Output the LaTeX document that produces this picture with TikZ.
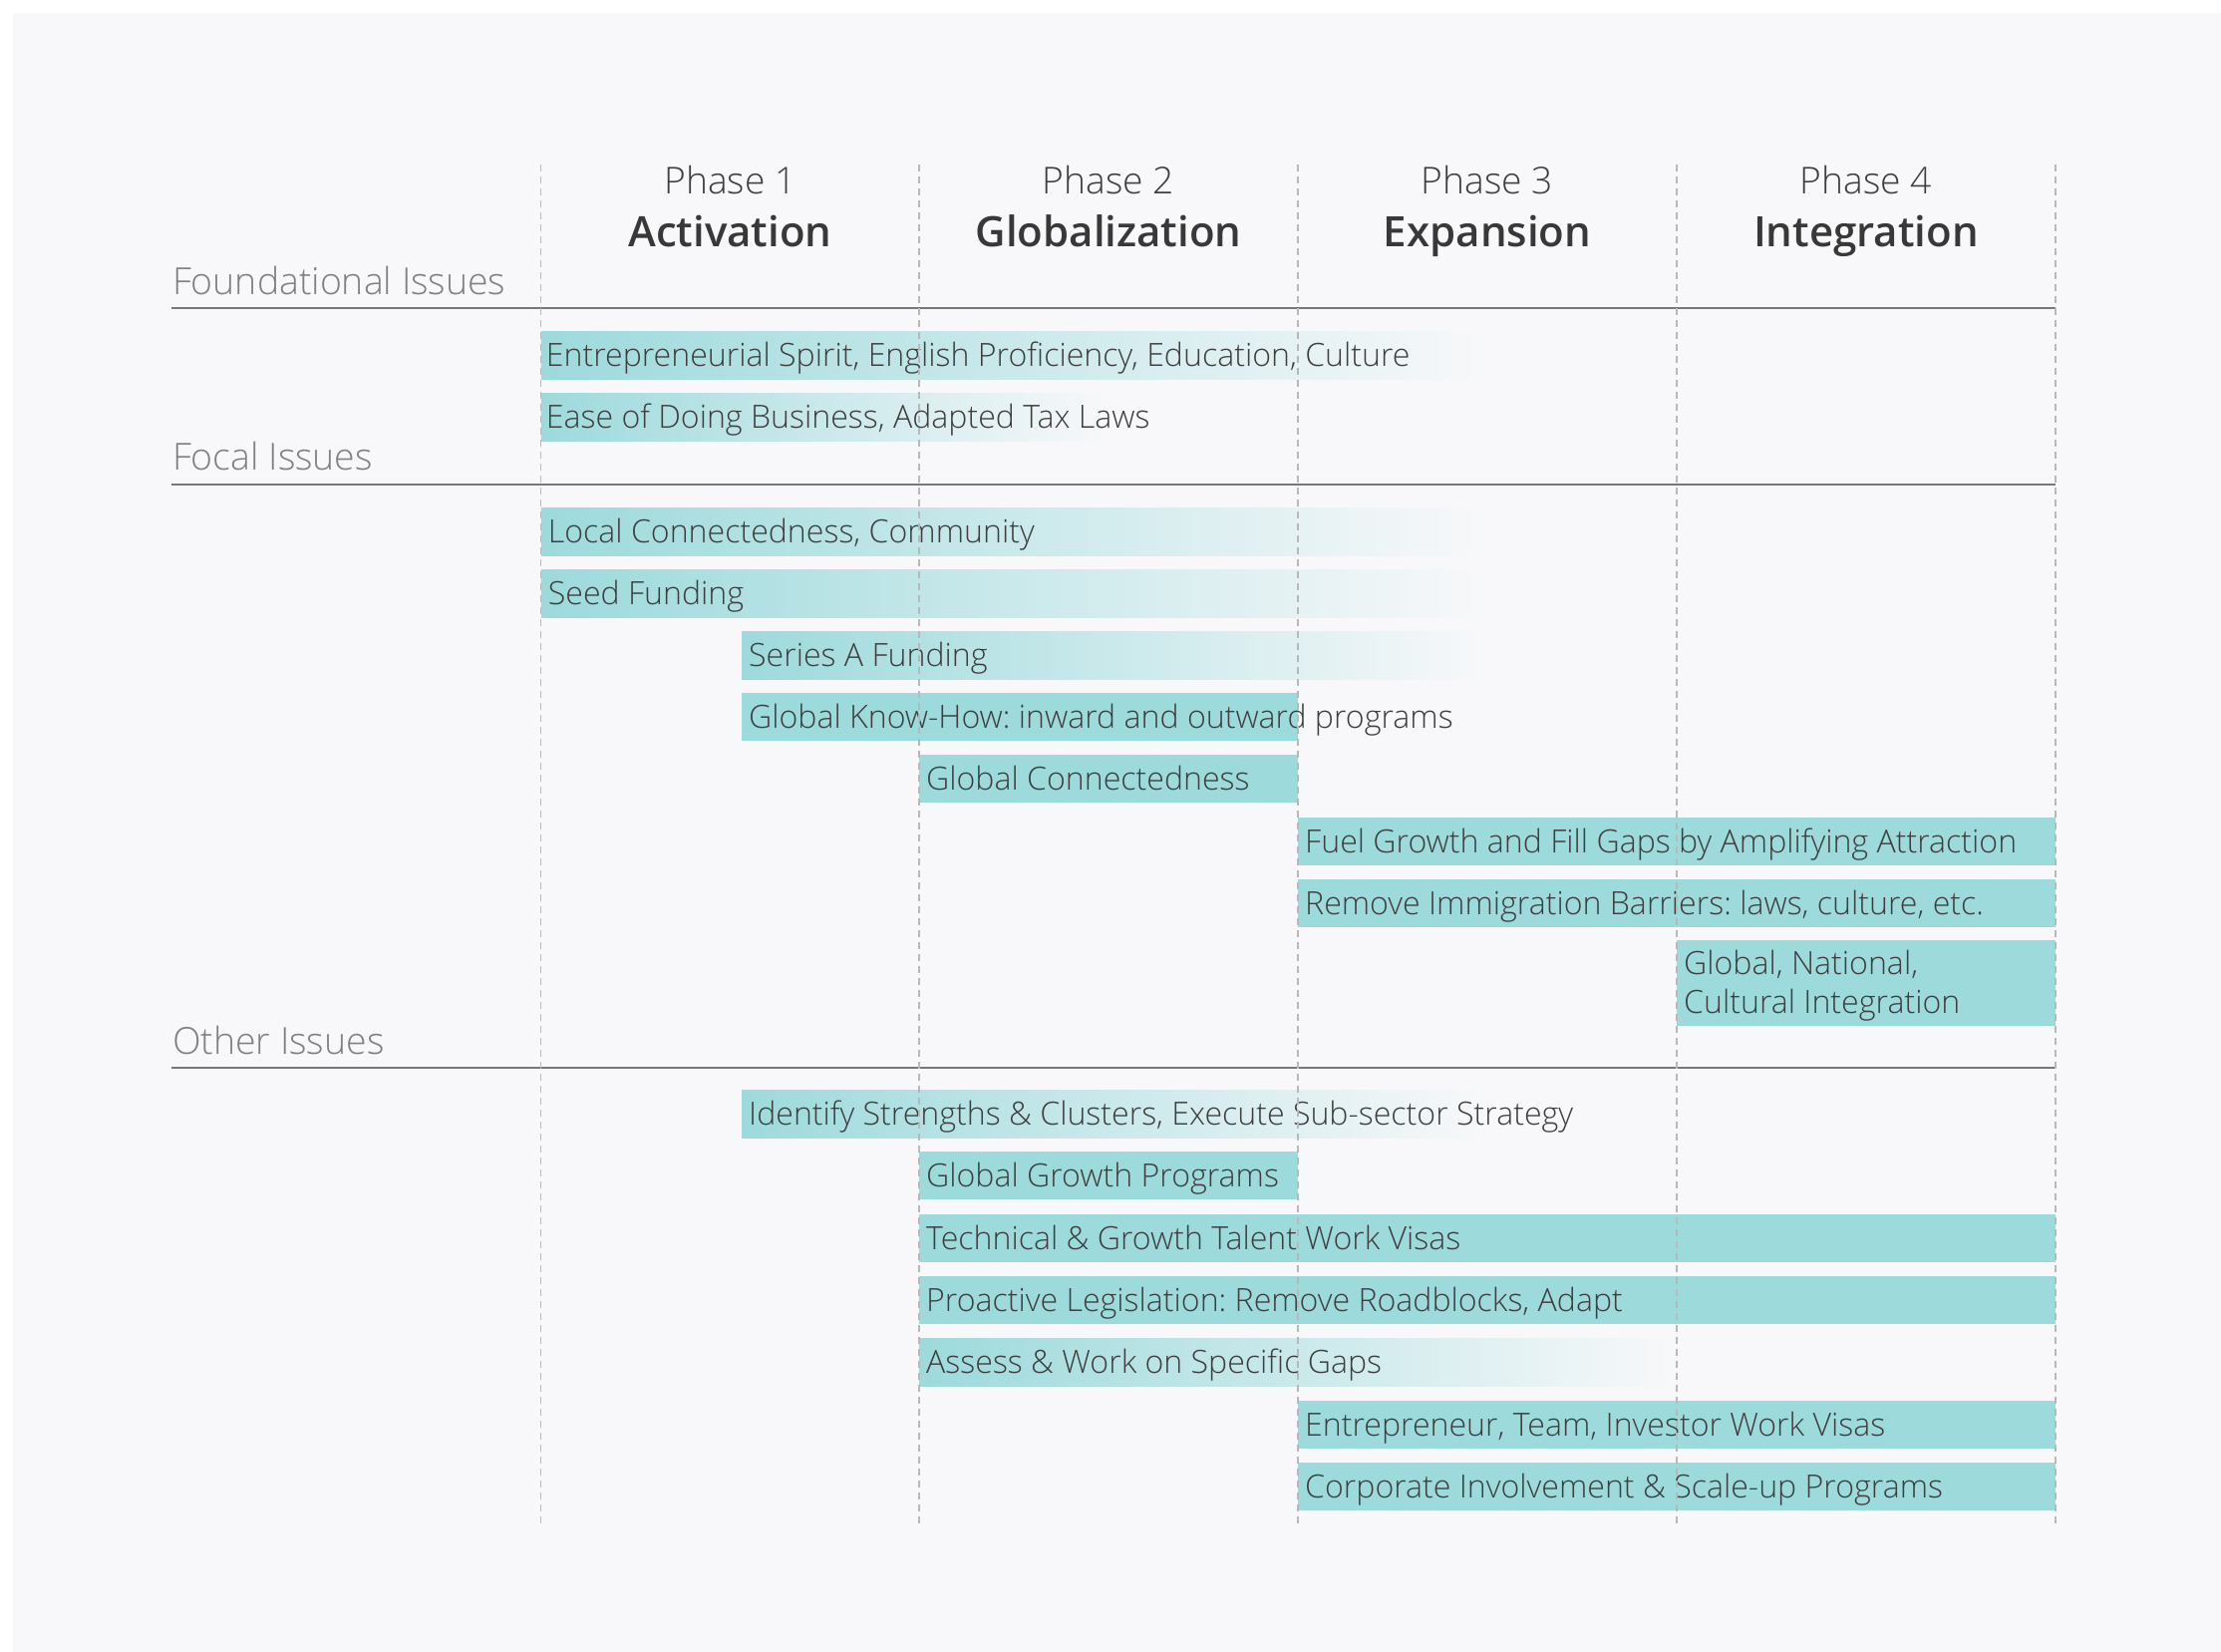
\documentclass[tikz,border=0pt]{standalone}
\usepackage{fontspec}
\setmainfont{Open Sans}
\IfFontExistsTF{Open Sans Light}{\newfontfamily\lightfont{Open Sans Light}}{\newfontfamily\lightfont{Open Sans}}
\IfFontExistsTF{Open Sans SemiBold}{\newfontfamily\semifont{Open Sans SemiBold}}{%
  \IfFontExistsTF{Open Sans Semibold}{\newfontfamily\semifont{Open Sans Semibold}}{\newfontfamily\semifont{Open Sans Bold}}}
\frenchspacing
\definecolor{bgc}{HTML}{F8F8FA}
\definecolor{teala}{HTML}{9DDADC}
\definecolor{txt}{HTML}{3E3E3E}
\definecolor{sect}{HTML}{808080}
\definecolor{rulec}{HTML}{777777}
\definecolor{dashc}{HTML}{B8B8B8}
\tikzset{
  bar/.style={fill=teala, draw=none, minimum height=48pt, inner sep=0pt, anchor=west},
  fadebar/.style={left color=teala, right color=bgc, draw=none, minimum height=48pt, inner sep=0pt, anchor=west},
  bartext/.style={anchor=base west, inner sep=0pt, text=txt, font=\lightfont\frenchspacing\fontsize{32.1}{39}\selectfont},
  secttext/.style={anchor=base west, inner sep=0pt, text=sect, font=\lightfont\fontsize{37.4}{44}\selectfont},
  phasetext/.style={anchor=base, inner sep=0pt, text=txt, font=\lightfont\fontsize{37.2}{44}\selectfont},
  phasename/.style={anchor=base, inner sep=0pt, text=black!78, font=\semifont\fontsize{42}{48}\selectfont},
  sectrule/.style={draw=rulec, line width=2pt},
  coldash/.style={draw=dashc, line width=1.5pt, dash pattern=on 7pt off 5pt},
}
\begin{document}
\begin{tikzpicture}[x=1pt,y=-1pt]
\useasboundingbox (0,0) rectangle (2228,1657);
\fill[white] (0,0) rectangle (2228,1657);
\fill[bgc] (13,13) rectangle (2228,1657);

% column boundaries
\coordinate (c0) at (542.7,165);
\coordinate (c1) at (922,165);
\coordinate (c2) at (1302,165);
\coordinate (c3) at (1682,165);
\coordinate (c4) at (2062,165);
\coordinate (d0) at (542.7,1532);
\coordinate (d1) at (922,1532);
\coordinate (d2) at (1302,1532);
\coordinate (d3) at (1682,1532);
\coordinate (d4) at (2062,1532);

% headers
\node[phasetext] (p1) at (732.4,194) {Phase 1};
\node[phasename] (n1) at (732.4,247) {Activation};
\node[phasetext] (p2) at (1112,194) {Phase 2};
\node[phasename] (n2) at (1112,247) {Globalization};
\node[phasetext] (p3) at (1492,194) {Phase 3};
\node[phasename] (n3) at (1492,247) {Expansion};
\node[phasetext] (p4) at (1872,194) {Phase 4};
\node[phasename] (n4) at (1872,247) {Integration};

% section labels and rules
\node[secttext] (s1) at (173,295) {Foundational Issues};
\node[secttext] (s2) at (173,471) {Focal Issues};
\node[secttext] (s3) at (173,1057) {Other Issues};
\coordinate (r1a) at (172,309); \coordinate (r1b) at (2062,309);
\coordinate (r2a) at (172,486); \coordinate (r2b) at (2062,486);
\coordinate (r3a) at (172,1071); \coordinate (r3b) at (2062,1071);
\draw[sectrule] (r1a) -- (r1b);
\draw[sectrule] (r2a) -- (r2b);
\draw[sectrule] (r3a) -- (r3b);

% Foundational bars
\node[fadebar, minimum width=949pt] (b1) at (542.7,356.5) {};
\node[fadebar, minimum width=569pt] (b2) at (542.7,418.5) {};
% Focal bars
\node[fadebar, minimum width=949pt] (b3) at (542.7,533) {};
\node[fadebar, minimum width=949pt] (b4) at (542.7,595) {};
\node[fadebar, minimum width=748pt] (b5) at (744,657) {};
\node[bar, minimum width=558pt] (b6) at (744,719) {};
\node[bar, minimum width=380pt] (b7) at (922,781) {};
\node[bar, minimum width=760pt] (b8) at (1302,844) {};
\node[bar, minimum width=760pt] (b9) at (1302,906) {};
\node[bar, minimum width=380pt, minimum height=86pt] (b10) at (1682,986) {};
% Other bars
\node[fadebar, minimum width=748pt] (b11) at (744,1117) {};
\node[bar, minimum width=380pt] (b12) at (922,1179) {};
\node[bar, minimum width=1140pt] (b13) at (922,1242) {};
\node[bar, minimum width=1140pt] (b14) at (922,1304) {};
\node[fadebar, minimum width=760pt] (b15) at (922,1366) {};
\node[bar, minimum width=760pt] (b16) at (1302,1429) {};
\node[bar, minimum width=760pt] (b17) at (1302,1491) {};

% bar texts
\node[bartext] (t1) at ([xshift=5pt,yshift=-11pt]b1.west) {Entrepreneurial Spirit, English Proficiency, Education, Culture};
\node[bartext] (t2) at ([xshift=5pt,yshift=-11pt]b2.west) {Ease of Doing Business, Adapted Tax Laws};
\node[bartext] (t3) at ([xshift=7pt,yshift=-11pt]b3.west) {Local Connectedness, Community};
\node[bartext] (t4) at ([xshift=7pt,yshift=-11pt]b4.west) {Seed Funding};
\node[bartext] (t5) at ([xshift=7pt,yshift=-11pt]b5.west) {Series A Funding};
\node[bartext] (t6) at ([xshift=7pt,yshift=-11pt]b6.west) {Global Know-How: inward and outward programs};
\node[bartext] (t7) at ([xshift=7pt,yshift=-11pt]b7.west) {Global Connectedness};
\node[bartext] (t8) at ([xshift=7pt,yshift=-11pt]b8.west) {Fuel Growth and Fill Gaps by Amplifying Attraction};
\node[bartext] (t9) at ([xshift=7pt,yshift=-11pt]b9.west) {Remove Immigration Barriers: laws, culture, etc.};
\node[bartext, anchor=west, align=left] (t10) at ([xshift=7pt,yshift=-3pt]b10.west) {Global, National,\\Cultural Integration};
\node[bartext] (t11) at ([xshift=7pt,yshift=-11pt]b11.west) {Identify Strengths \& Clusters, Execute Sub-sector Strategy};
\node[bartext] (t12) at ([xshift=7pt,yshift=-11pt]b12.west) {Global Growth Programs};
\node[bartext] (t13) at ([xshift=7pt,yshift=-11pt]b13.west) {Technical \& Growth Talent Work Visas};
\node[bartext] (t14) at ([xshift=7pt,yshift=-11pt]b14.west) {Proactive Legislation: Remove Roadblocks, Adapt};
\node[bartext] (t15) at ([xshift=7pt,yshift=-11pt]b15.west) {Assess \& Work on Specific Gaps};
\node[bartext] (t16) at ([xshift=7pt,yshift=-11pt]b16.west) {Entrepreneur, Team, Investor Work Visas};
\node[bartext] (t17) at ([xshift=7pt,yshift=-11pt]b17.west) {Corporate Involvement \& Scale-up Programs};

% dashed column lines
\draw[coldash] (c0) -- (d0);
\draw[coldash] (c1) -- (d1);
\draw[coldash] (c2) -- (d2);
\draw[coldash] (c3) -- (d3);
\draw[coldash] (c4) -- (d4);
\end{tikzpicture}
\end{document}
